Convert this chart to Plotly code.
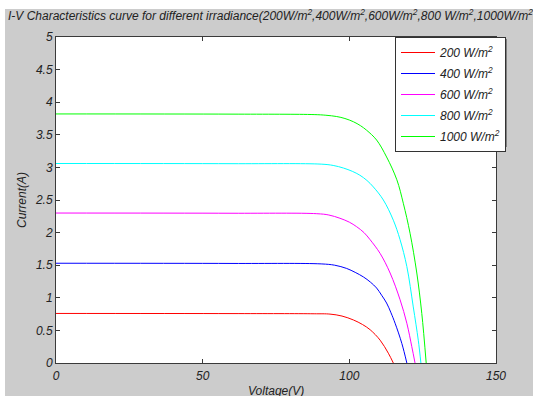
import plotly.graph_objects as go

# ---- data ----
labels = ["200 W/m<sup>2</sup>", "400 W/m<sup>2</sup>", "600 W/m<sup>2</sup>",
          "800 W/m<sup>2</sup>", "1000 W/m<sup>2</sup>"]
colors = ["#ff0000", "#0000ff", "#ff00ff", "#00ffff", "#00ff00"]

v_200 = [0, 60, 88, 93.4, 97.5, 101.4, 104.5, 107.1, 110.5, 113.3, 115.0]
i_200 = [0.76, 0.758, 0.755, 0.75, 0.72, 0.66, 0.59, 0.51, 0.35, 0.15, 0]

v_400 = [0, 60, 90.4, 95, 99.1, 102, 104.8, 107.2, 109.3, 111, 112.7, 114.2, 115.6, 117.9, 119.6]
i_400 = [1.53, 1.527, 1.52, 1.50, 1.45, 1.39, 1.32, 1.24, 1.15, 1.04, 0.92, 0.77, 0.61, 0.30, 0]

v_600 = [0, 60, 88.9, 93, 96.8, 100, 102.5, 105, 107.1, 110.5, 113.9, 117.3, 119.6, 121.3, 122.4]
i_600 = [2.30, 2.297, 2.29, 2.27, 2.22, 2.16, 2.09, 2.00, 1.89, 1.68, 1.38, 0.97, 0.61, 0.25, 0]

v_800 = [0, 60, 90.4, 94.5, 98.0, 101, 103.6, 106, 108.2, 111.6, 115.0, 117.3, 119.6, 121.8, 123.5, 124.4]
i_800 = [3.06, 3.057, 3.05, 3.03, 2.99, 2.94, 2.88, 2.80, 2.70, 2.50, 2.19, 1.89, 1.48, 0.86, 0.35, 0]

v_1000 = [0, 60, 88, 92, 95.7, 98.5, 101.4, 103.8, 105.9, 109.3, 112.7, 116.2, 118.4, 120.7, 123.0, 124.7, 126.2]
i_1000 = [3.82, 3.817, 3.81, 3.80, 3.78, 3.75, 3.70, 3.64, 3.57, 3.42, 3.16, 2.81, 2.45, 1.99, 1.38, 0.76, 0]

volts = [v_200, v_400, v_600, v_800, v_1000]
amps = [i_200, i_400, i_600, i_800, i_1000]

x_ticks = [0, 50, 100, 150]
y_ticks = [0, 0.5, 1, 1.5, 2, 2.5, 3, 3.5, 4, 4.5, 5]
y_tick_text = ["0", "0.5", "1", "1.5", "2", "2.5", "3", "3.5", "4", "4.5", "5"]

title_text = ("I-V Characteristics curve for different irradiance(200W/m<sup>2</sup>,"
              "400W/m<sup>2</sup>,600W/m<sup>2</sup>,800 W/m<sup>2</sup>,1000W/m<sup>2</sup>,")

FONT = "Liberation Sans, Arial, sans-serif"
W, H = 533, 396
L, R, T, B = 56, 37, 37, 33
PW, PH = W - L - R, H - T - B

def px(xp):
    return (xp - L) / PW

def py(yp):
    return (H - B - yp) / PH

fig = go.Figure()
for k, (v, i, name, c) in enumerate(zip(volts, amps, labels, colors)):
    fig.add_trace(go.Scatter(x=v, y=i, mode="lines", name=name, legendgroup=f"g{k}",
                             line=dict(color=c, width=1, shape="spline", smoothing=1.0)))

axis_common = dict(showgrid=False, zeroline=False, showline=True, linecolor="#3a3a3a",
                   linewidth=1, mirror="ticks", ticks="inside", ticklen=4,
                   tickcolor="#3a3a3a", tickwidth=1,
                   tickfont=dict(family=FONT, size=12, color="#222222", style="italic"))

fig.update_xaxes(range=[0, 150], tickvals=x_ticks, ticklabelstandoff=2, **axis_common)
fig.update_yaxes(range=[0, 5], tickvals=y_ticks, ticktext=y_tick_text, **axis_common)

shapes = [
    # white strips at top and left of the figure
    dict(type="rect", xref="paper", yref="paper", x0=px(-5), x1=px(W + 5), y0=py(-5), y1=py(9),
         fillcolor="white", line_width=0, layer="above"),
    dict(type="rect", xref="paper", yref="paper", x0=px(-5), x1=px(5), y0=py(H + 5), y1=py(-5),
         fillcolor="white", line_width=0, layer="above"),
    # legend shadow
    dict(type="rect", xref="paper", yref="paper", x0=px(397), x1=px(507), y0=py(147), y1=py(39),
         fillcolor="#808080", line_width=0, layer="above"),
]

fig.update_layout(
    width=W, height=H,
    margin=dict(l=L, r=R, t=T, b=B),
    paper_bgcolor="#cccccc", plot_bgcolor="white",
    title=dict(text=title_text, x=8 / W, xanchor="left", xref="container",
               y=1 - 16 / H, yanchor="middle", yref="container",
               font=dict(family=FONT, size=12, color="#222222", style="italic")),
    legend=dict(x=px(395), y=1, xanchor="left", yanchor="top",
                bgcolor="white", bordercolor="#333333", borderwidth=1,
                tracegroupgap=2, itemwidth=34,
                font=dict(family=FONT, size=12, color="#222222", style="italic")),
    shapes=shapes,
    annotations=[
        dict(text="Current(A)", xref="paper", yref="paper", x=px(22), y=0.5, showarrow=False,
             textangle=-90, xanchor="center", yanchor="middle",
             font=dict(family=FONT, size=12, color="#222222", style="italic")),
        dict(text="Voltage(V)", xref="paper", yref="paper", x=0.5, y=py(391), showarrow=False,
             xanchor="center", yanchor="middle",
             font=dict(family=FONT, size=12, color="#222222", style="italic")),
    ],
)

fig.write_html("out.html")
